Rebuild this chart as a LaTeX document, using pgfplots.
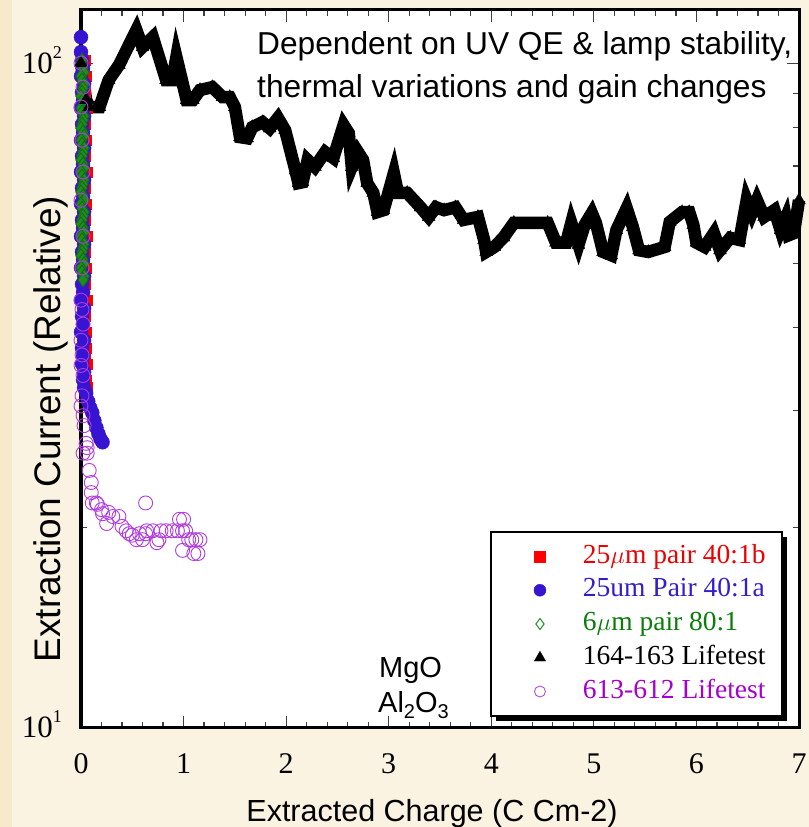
\documentclass[border=0pt]{standalone}
\usepackage{fontspec}
\setmainfont{Liberation Serif}
\newfontfamily\arialfont{Liberation Sans}
\usepackage{pgfplots}
\usepackage{pgfplotstable}
\pgfplotsset{compat=1.18}
\usetikzlibrary{shadows}

\definecolor{paper}{RGB}{251,243,226}
\definecolor{paperedge}{RGB}{247,233,204}
\definecolor{ptred}{RGB}{255,0,0}
\definecolor{ptblue}{RGB}{55,20,210}
\definecolor{ptgreen}{RGB}{30,140,30}
\definecolor{ptgreendark}{RGB}{20,105,20}
\definecolor{ptmag}{RGB}{176,60,224}
\definecolor{txtred}{RGB}{236,0,0}
\definecolor{txtblue}{RGB}{50,30,205}
\definecolor{txtgreen}{RGB}{10,125,10}
\definecolor{txtmag}{RGB}{165,0,205}

\newcommand\fs[1]{\fontsize{#1bp}{#1bp}\selectfont}

% 25 um pair 40:1b
\pgfplotstableread{
x y
0.04 101.0
0.03 98.3
0.05 95.6
0.04 90.4
0.06 85.6
0.03 83.2
0.04 80.9
0.05 76.6
0.04 72.5
0.03 70.5
0.06 68.6
0.04 64.9
0.05 61.4
0.03 59.7
0.04 58.1
0.06 54.9
0.04 52.0
0.03 50.6
0.05 49.2
0.04 46.5
0.06 44.0
0.03 42.8
0.04 41.6
0.05 39.4
0.05 37.3
0.04 36.3
0.06 35.3
0.05 33.4
0.06 32.5
}\redtbl

% 25 um Pair 40:1a
\pgfplotstableread{
x y
0.00 109.4
0.00 103.9
0.01 101.0
0.02 98.3
0.00 95.6
0.03 93.0
0.01 90.4
0.02 88.0
0.00 85.6
0.03 83.2
0.01 80.9
0.02 78.7
0.00 76.6
0.03 74.5
0.01 72.5
0.02 70.5
0.00 68.6
0.03 66.7
0.01 64.9
0.02 63.1
0.00 61.4
0.03 59.7
0.01 58.1
0.02 56.5
0.00 54.9
0.03 53.4
0.01 52.0
0.02 50.6
0.00 49.2
0.03 47.8
0.01 46.5
0.02 45.2
0.00 44.0
0.03 42.8
0.01 41.6
0.02 40.5
0.00 39.4
0.03 38.3
0.01 37.3
0.02 36.3
0.01 35.3
0.03 34.3
0.02 33.4
0.03 32.5
0.05 31.9
0.07 31.0
0.09 30.3
0.11 29.8
0.13 29.0
0.15 28.3
0.17 27.7
0.19 27.2
0.21 26.9
}\bluetbl

% 6 um pair 80:1
\pgfplotstableread{
x y
0.01 101.0
0.00 99.7
0.02 98.3
0.03 96.9
0.00 95.6
0.01 94.3
0.03 93.0
0.02 91.7
0.01 90.4
0.00 89.2
0.02 88.0
0.03 86.8
0.00 85.6
0.01 84.4
0.03 83.2
0.02 82.1
0.01 80.9
0.00 79.8
0.02 78.7
0.03 77.6
0.00 76.6
0.01 75.5
0.03 74.5
0.02 73.5
0.01 72.5
0.00 71.5
0.02 70.5
0.03 69.5
0.00 68.6
0.01 67.6
0.03 66.7
0.02 65.8
0.01 64.9
0.00 64.0
0.02 63.1
0.03 62.2
0.00 61.4
0.01 60.5
0.03 59.7
0.02 58.9
0.01 58.1
0.00 57.3
0.02 56.5
0.03 55.7
0.00 54.9
0.01 54.2
0.03 53.4
0.02 52.7
0.01 52.0
0.00 51.3
0.02 50.6
0.03 49.9
0.00 49.2
0.01 48.5
0.03 47.8
0.02 47.2
}\greentbl

% 164-163 Lifetest
\pgfplotstableread{
x y
0.00 100.0
0.05 88.0
0.08 85.9
0.18 85.9
0.27 94.3
0.37 99.3
0.54 112.1
0.60 105.7
0.70 109.4
0.83 94.3
0.89 94.3
0.93 102.1
1.03 88.0
1.09 88.0
1.16 91.1
1.28 92.0
1.38 88.9
1.45 88.9
1.50 85.9
1.55 77.4
1.62 77.1
1.67 80.1
1.77 81.5
1.84 79.8
1.92 82.7
1.99 79.3
2.09 69.0
2.12 66.0
2.16 66.2
2.21 71.5
2.28 69.8
2.38 73.5
2.46 72.0
2.56 80.7
2.61 78.5
2.64 69.8
2.70 73.5
2.75 71.5
2.79 66.0
2.85 63.8
2.89 59.7
2.95 60.1
3.05 68.3
3.09 63.8
3.18 63.8
3.31 60.7
3.39 58.7
3.46 60.7
3.54 60.1
3.65 60.7
3.73 58.1
3.87 58.7
3.93 54.2
3.95 52.0
4.03 52.9
4.12 54.7
4.22 57.5
4.55 57.5
4.63 53.7
4.73 53.7
4.78 57.5
4.85 53.3
4.91 57.1
4.98 59.5
5.02 57.5
5.09 52.0
5.17 51.4
5.22 56.1
5.32 60.5
5.38 56.7
5.44 52.3
5.53 52.0
5.69 52.9
5.74 57.7
5.86 59.7
5.93 59.7
5.97 57.1
6.00 53.7
6.08 52.9
6.17 55.5
6.23 52.3
6.33 54.6
6.42 54.2
6.49 62.2
6.54 59.5
6.59 62.2
6.66 58.7
6.76 60.1
6.82 56.1
6.87 58.5
6.90 55.1
6.95 55.5
7.00 62.2
}\blacktbl

% 613-612 Lifetest
\pgfplotstableread{
x y
0.00 100.0
0.02 92.0
0.00 85.9
0.01 76.6
0.02 68.6
0.00 62.2
0.02 54.9
0.01 49.2
0.00 44.0
0.01 42.6
0.02 40.5
0.00 38.3
0.01 36.4
0.00 35.1
0.02 33.9
0.01 31.6
0.00 30.5
0.02 29.5
0.03 28.5
0.05 26.8
0.06 26.4
0.02 25.9
0.06 25.9
0.08 24.4
0.10 23.4
0.10 22.6
0.11 21.8
0.15 21.8
0.16 21.7
0.20 21.3
0.21 21.0
0.25 20.3
0.27 21.1
0.31 20.8
0.37 20.8
0.40 20.1
0.44 19.8
0.47 19.6
0.50 19.5
0.54 19.2
0.57 19.6
0.60 19.2
0.63 19.6
0.64 19.8
0.70 19.8
0.74 19.0
0.76 19.2
0.78 19.8
0.83 19.8
0.89 19.8
0.94 19.8
0.96 20.6
0.99 19.8
1.02 19.8
1.00 20.6
1.05 19.2
1.08 19.2
1.12 19.2
1.16 19.2
1.14 18.3
0.99 18.5
1.10 18.3
0.63 21.8
}\magtbl

\begin{document}
\begin{tikzpicture}
\useasboundingbox (0,0) rectangle (809bp,827bp);
\fill[paper] (0,0) rectangle (809bp,827bp);
\fill[paperedge] (0,0) rectangle (12bp,827bp);
\begin{axis}[
  at={(81bp,99bp)}, anchor=south west,
  scale only axis, width=718bp, height=718bp,
  xmin=0, xmax=7, ymode=log, ymin=10, ymax=120.2,
  xtick={0,1,2,3,4,5,6,7},
  xticklabels={0,1,2,3,4,5,6,7},
  minor x tick num=4,
  ytick={10,100},
  yticklabels={10\raisebox{15bp}{\fs{18}1}, 10\raisebox{15bp}{\fs{18}2}},
  tick align=inside,
  major tick length=12bp, minor tick length=6bp,
  tick style={line width=1.2bp, black!75},
  axis line style={line width=3bp, black},
  axis background/.style={fill=white},
  xticklabel style={font=\fs{30}, anchor=base, inner sep=0pt, yshift=-46bp},
  yticklabel style={font=\fs{31}, anchor=base east, inner sep=0pt, xshift=-19bp, yshift=-10bp},
  clip=false,
  legend cell align=left,
  legend style={at={(0.5696,0.0153)}, anchor=south west, draw=black, line width=2bp,
    fill=white, inner xsep=16bp, inner ysep=12bp, row sep=8.75bp, column sep=37bp,
    font=\fs{27.5},
    nodes={inner sep=0pt, text height=19bp, text depth=6bp},
    drop shadow={shadow xshift=5bp, shadow yshift=-5bp, fill=black, opacity=1}},
  % marker only; the invisible segment reserves room on the left of each marker
  legend image code/.code={%
    \pgfpathmoveto{\pgfpoint{-33bp}{0bp}}\pgfpathlineto{\pgfpoint{6bp}{0bp}}\pgfusepath{}%
    \draw[#1] plot coordinates {(0bp,0bp)};},
]
\addplot[forget plot, only marks, mark=square*, mark size=5bp, color=ptred,
  mark options={line width=0.4bp}] table {\redtbl};
\addplot[forget plot, only marks, mark=*, mark size=7bp, color=ptblue,
  mark options={line width=0.4bp}] table {\bluetbl};
\addplot[forget plot, only marks, mark=diamond*, mark size=7bp, color=ptgreendark,
  mark options={fill=ptgreen, line width=0.8bp}] table {\greentbl};
\addplot[forget plot, black, line width=12.5bp, line join=miter, mark=triangle*,
  mark size=7.5bp, mark options={line width=0.2bp}] table {\blacktbl};
\addplot[forget plot, only marks, mark=o, mark size=7bp, color=ptmag,
  mark options={line width=0.9bp}] table {\magtbl};

\addlegendimage{mark=square*, ptred, mark size=5.5bp, line width=0.4bp}
\addlegendentry{\textcolor{txtred}{25$\mu$m pair 40:1b}}
\addlegendimage{mark=*, ptblue, mark size=6bp, line width=0.4bp}
\addlegendentry{\textcolor{txtblue}{25um Pair 40:1a}}
\addlegendimage{mark=diamond, ptgreen, mark size=5.5bp, line width=1bp}
\addlegendentry{\textcolor{txtgreen}{6$\mu$m pair 80:1}}
\addlegendimage{mark=triangle*, black, mark size=6.5bp, line width=0.4bp}
\addlegendentry{164-163 Lifetest}
\addlegendimage{mark=o, ptmag, mark size=5.5bp, line width=0.8bp}
\addlegendentry{\textcolor{txtmag}{613-612 Lifetest}}
\end{axis}

\node[anchor=base west, inner sep=0pt, font=\arialfont\fs{31.7}] at (257bp,772bp)
  {Dependent on UV QE \& lamp stability,};
\node[anchor=base west, inner sep=0pt, font=\arialfont\fs{31.7}] at (257bp,729bp)
  {thermal variations and gain changes};
\node[anchor=base west, inner sep=0pt, font=\arialfont\fs{29}] at (379bp,149bp) {MgO};
\node[anchor=base west, inner sep=0pt, font=\arialfont\fs{29}] at (378bp,114bp)
  {Al\raisebox{-6bp}{\fs{20}2}O\raisebox{-6bp}{\fs{20}3}};
\node[rotate=90, anchor=base, inner sep=0pt, font=\arialfont\fs{37}] at (60bp,398bp)
  {Extraction Current (Relative)};
\node[anchor=base, inner sep=0pt, font=\arialfont\fs{30.5}] at (432bp,6bp)
  {Extracted Charge (C Cm-2)};
\end{tikzpicture}
\end{document}
